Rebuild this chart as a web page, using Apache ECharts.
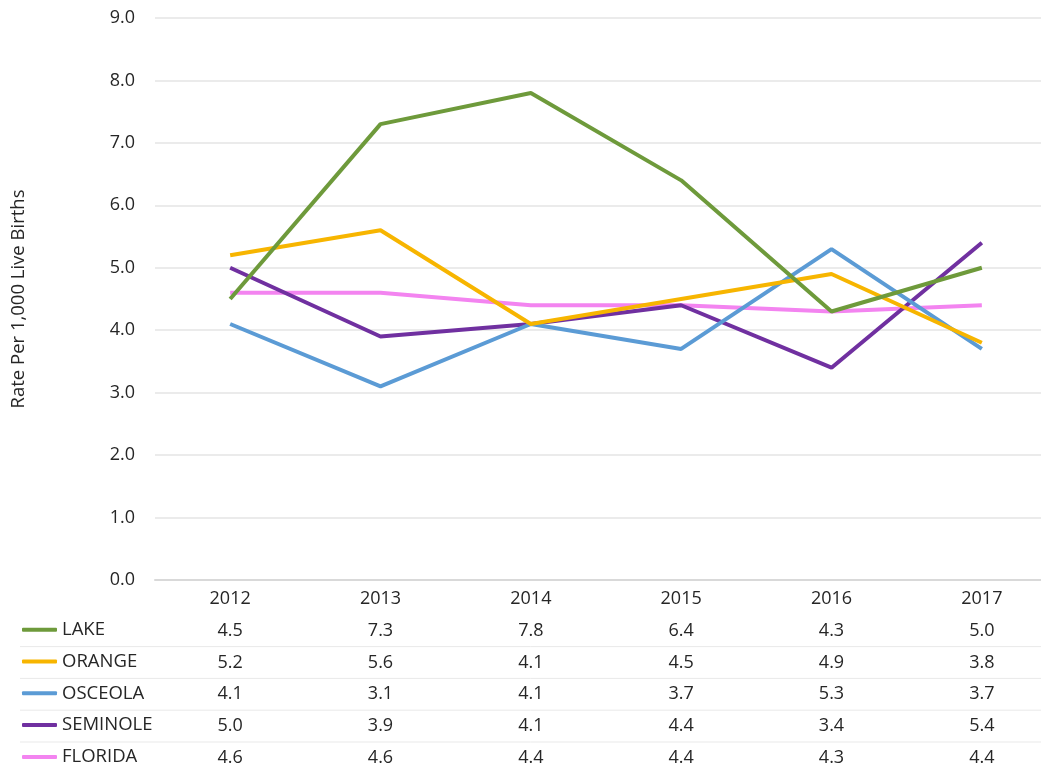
<!DOCTYPE html>
<html>
<head>
<meta charset="utf-8">
<script src="https://cdn.jsdelivr.net/npm/echarts@6/dist/echarts.min.js"></script>
<style>
html,body{margin:0;padding:0;background:#fff;overflow:hidden}
#c{width:1041px;height:769px}
</style>
</head>
<body>
<div id="c"></div>
<script>
var years = ['2012','2013','2014','2015','2016','2017'];
var seriesNames = ['LAKE','ORANGE','OSCEOLA','SEMINOLE','FLORIDA'];
var lake = [4.5, 7.3, 7.8, 6.4, 4.3, 5.0];
var orange = [5.2, 5.6, 4.1, 4.5, 4.9, 3.8];
var osceola = [4.1, 3.1, 4.1, 3.7, 5.3, 3.7];
var seminole = [5.0, 3.9, 4.1, 4.4, 3.4, 5.4];
var florida = [4.6, 4.6, 4.4, 4.4, 4.3, 4.4];
var colors = ['#6e9a3b', '#f7b500', '#5b9bd5', '#7030a0', '#f384f0'];
var yTitle = 'Rate Per 1,000 Live Births';

var allData = [lake, orange, osceola, seminole, florida];
var FONT = '"Open Sans", "Noto Sans", sans-serif';
var ROW = 31.8;
var AXIS_Y = 580;
var LABEL_MARGIN = 3;

var chart = echarts.init(document.getElementById('c'));
var series = seriesNames.map(function (n, i) {
  return {
    name: n, type: 'line', data: allData[i], symbol: 'none',
    lineStyle: { width: 4, color: colors[i] }, itemStyle: { color: colors[i] },
    z: 10 - i
  };
});

// legend: one component per row so that it lines up with the table rows
var legends = seriesNames.map(function (n, i) {
  var rowCenter = AXIS_Y + LABEL_MARGIN + ROW * (i + 1) + ROW / 2;
  return {
    orient: 'vertical', left: 22, top: rowCenter - 11, itemWidth: 35, itemHeight: 4,
    icon: 'roundRect', padding: 0,
    textStyle: { color: '#262626', fontSize: 18.5, fontFamily: FONT, lineHeight: 20 },
    data: [n]
  };
});

// faint row separators of the data table
var graphics = [];
for (var r = 1; r < 5; r++) {
  var y = AXIS_Y + LABEL_MARGIN + ROW * (r + 1);
  graphics.push({ type: 'line', shape: { x1: 20, y1: y, x2: 1041, y2: y }, style: { stroke: '#e9e9e9', lineWidth: 1 }, silent: true });
}

chart.setOption({
  backgroundColor: '#ffffff',
  animation: false,
  color: colors,
  grid: { left: 155, top: 18, width: 902, height: 562, containLabel: false, outerBoundsMode: 'none' },
  xAxis: {
    type: 'category', data: years, boundaryGap: true,
    axisLine: { show: true, lineStyle: { color: '#d9d9d9', width: 2 } },
    axisTick: { show: false },
    axisLabel: {
      interval: 0, margin: LABEL_MARGIN, color: '#262626', fontSize: 18, fontFamily: FONT,
      lineHeight: ROW, verticalAlign: 'top',
      formatter: function (v, idx) {
        var lines = [v];
        allData.forEach(function (d) { lines.push(d[idx].toFixed(1)); });
        return lines.join('\n');
      }
    },
    splitLine: { show: false }
  },
  yAxis: {
    type: 'value', min: 0, max: 9, interval: 1,
    name: yTitle, nameLocation: 'middle', nameGap: 127, nameRotate: 90,
    nameTextStyle: { color: '#262626', fontSize: 18.5, fontFamily: FONT },
    axisLine: { show: false }, axisTick: { show: false },
    axisLabel: { margin: 20, color: '#262626', fontSize: 18, fontFamily: FONT, formatter: function (v) { return v.toFixed(1); } },
    splitLine: { show: true, lineStyle: { color: '#ebebeb', width: 2 } }
  },
  legend: legends,
  graphic: graphics,
  series: series
});
</script>
</body>
</html>
